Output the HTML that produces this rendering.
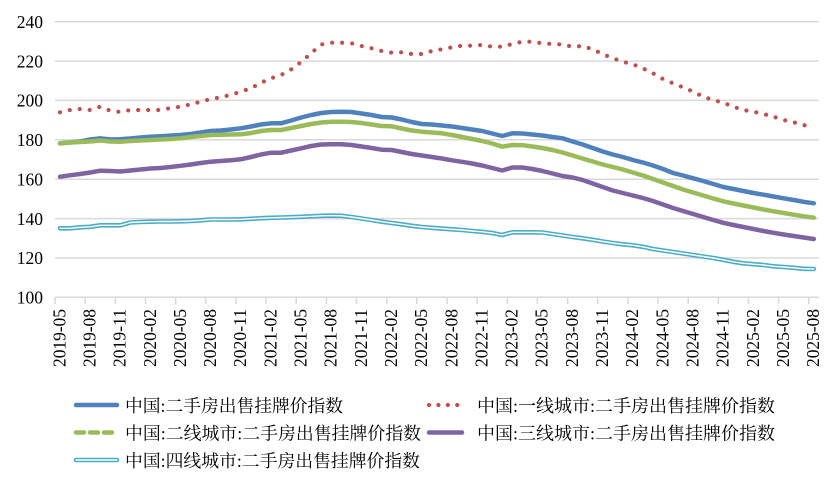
<!DOCTYPE html>
<html><head><meta charset="utf-8"><style>
html,body{margin:0;padding:0;background:#fff;}
svg{display:block;}
.yl{font-family:"Liberation Serif","Noto Serif CJK SC",serif;font-size:17.5px;fill:#000;}
.lg{font-family:"Liberation Serif","Noto Serif CJK SC",serif;font-size:17.5px;fill:#000;}
</style></head><body>
<svg width="835" height="490" viewBox="0 0 835 490" xmlns="http://www.w3.org/2000/svg">
<rect width="835" height="490" fill="#fff"/>
<g stroke="#d9d9d9" stroke-width="1.5">
<line x1="55" y1="21.7" x2="819" y2="21.7"/>
<line x1="55" y1="61.1" x2="819" y2="61.1"/>
<line x1="55" y1="100.4" x2="819" y2="100.4"/>
<line x1="55" y1="139.8" x2="819" y2="139.8"/>
<line x1="55" y1="179.2" x2="819" y2="179.2"/>
<line x1="55" y1="218.6" x2="819" y2="218.6"/>
<line x1="55" y1="257.9" x2="819" y2="257.9"/>
<line x1="55" y1="297.3" x2="819" y2="297.3"/>
</g>
<g stroke="#d9d9d9" stroke-width="1.5">
<line x1="55" y1="297" x2="55" y2="304"/><line x1="85.2" y1="297" x2="85.2" y2="304"/><line x1="115.3" y1="297" x2="115.3" y2="304"/><line x1="145.5" y1="297" x2="145.5" y2="304"/><line x1="175.6" y1="297" x2="175.6" y2="304"/><line x1="205.8" y1="297" x2="205.8" y2="304"/><line x1="235.9" y1="297" x2="235.9" y2="304"/><line x1="266.1" y1="297" x2="266.1" y2="304"/><line x1="296.2" y1="297" x2="296.2" y2="304"/><line x1="326.4" y1="297" x2="326.4" y2="304"/><line x1="356.5" y1="297" x2="356.5" y2="304"/><line x1="386.7" y1="297" x2="386.7" y2="304"/><line x1="416.8" y1="297" x2="416.8" y2="304"/><line x1="447" y1="297" x2="447" y2="304"/><line x1="477.1" y1="297" x2="477.1" y2="304"/><line x1="507.3" y1="297" x2="507.3" y2="304"/><line x1="537.4" y1="297" x2="537.4" y2="304"/><line x1="567.6" y1="297" x2="567.6" y2="304"/><line x1="597.7" y1="297" x2="597.7" y2="304"/><line x1="627.9" y1="297" x2="627.9" y2="304"/><line x1="658" y1="297" x2="658" y2="304"/><line x1="688.2" y1="297" x2="688.2" y2="304"/><line x1="718.3" y1="297" x2="718.3" y2="304"/><line x1="748.5" y1="297" x2="748.5" y2="304"/><line x1="778.6" y1="297" x2="778.6" y2="304"/><line x1="808.8" y1="297" x2="808.8" y2="304"/>
</g>
<g class="yl" text-anchor="end">
<text x="43" y="28">240</text>
<text x="43" y="67.4">220</text>
<text x="43" y="106.7">200</text>
<text x="43" y="146.1">180</text>
<text x="43" y="185.5">160</text>
<text x="43" y="224.9">140</text>
<text x="43" y="264.2">120</text>
<text x="43" y="303.6">100</text>
</g>
<g class="yl" text-anchor="end">
<text transform="translate(65.3,309) rotate(-90)" textLength="58">2019-05</text>
<text transform="translate(95.5,309) rotate(-90)" textLength="58">2019-08</text>
<text transform="translate(125.6,309) rotate(-90)" textLength="58">2019-11</text>
<text transform="translate(155.8,309) rotate(-90)" textLength="58">2020-02</text>
<text transform="translate(185.9,309) rotate(-90)" textLength="58">2020-05</text>
<text transform="translate(216.1,309) rotate(-90)" textLength="58">2020-08</text>
<text transform="translate(246.2,309) rotate(-90)" textLength="58">2020-11</text>
<text transform="translate(276.4,309) rotate(-90)" textLength="58">2021-02</text>
<text transform="translate(306.5,309) rotate(-90)" textLength="58">2021-05</text>
<text transform="translate(336.7,309) rotate(-90)" textLength="58">2021-08</text>
<text transform="translate(366.8,309) rotate(-90)" textLength="58">2021-11</text>
<text transform="translate(397,309) rotate(-90)" textLength="58">2022-02</text>
<text transform="translate(427.1,309) rotate(-90)" textLength="58">2022-05</text>
<text transform="translate(457.3,309) rotate(-90)" textLength="58">2022-08</text>
<text transform="translate(487.4,309) rotate(-90)" textLength="58">2022-11</text>
<text transform="translate(517.6,309) rotate(-90)" textLength="58">2023-02</text>
<text transform="translate(547.7,309) rotate(-90)" textLength="58">2023-05</text>
<text transform="translate(577.9,309) rotate(-90)" textLength="58">2023-08</text>
<text transform="translate(608,309) rotate(-90)" textLength="58">2023-11</text>
<text transform="translate(638.2,309) rotate(-90)" textLength="58">2024-02</text>
<text transform="translate(668.3,309) rotate(-90)" textLength="58">2024-05</text>
<text transform="translate(698.5,309) rotate(-90)" textLength="58">2024-08</text>
<text transform="translate(728.6,309) rotate(-90)" textLength="58">2024-11</text>
<text transform="translate(758.8,309) rotate(-90)" textLength="58">2025-02</text>
<text transform="translate(788.9,309) rotate(-90)" textLength="58">2025-05</text>
<text transform="translate(819.1,309) rotate(-90)" textLength="58">2025-08</text>
</g>
<g fill="none" stroke-linejoin="round" stroke-linecap="round">
<!-- blue -->
<polyline stroke="#4F81BD" stroke-width="4.5" points="60,143.3 70.1,142.5 80.1,141.5 90.2,139.5 100.2,138.3 110.3,139.5 120.3,139.3 130.4,138.5 140.4,137.5 150.5,136.7 160.5,136.2 170.6,135.6 180.6,135 190.7,134 200.7,132.5 210.8,131 220.8,130.5 230.9,129.5 240.9,128.3 251,126.5 261,124.5 271.1,123.3 281.1,123.3 291.2,120.5 301.2,117.5 311.3,115 321.3,113 331.4,112 341.4,111.7 351.5,112 361.5,113.5 371.6,115 381.6,117 391.7,117.5 401.7,119.5 411.8,122 421.8,124 431.9,124.5 441.9,125.5 452,126.5 462,128 472.1,129.5 482.1,131 492.2,133.5 502.2,136 512.3,133.3 522.3,133.5 532.4,134.5 542.4,135.5 552.5,137 562.5,138.3 572.6,141.5 582.6,144.5 592.7,148 602.7,151.5 612.8,154.5 622.8,157 632.9,160 642.9,162.5 653,165.5 663,169 673.1,173 683.1,175.5 693.2,178.3 703.2,181 713.3,184 723.3,187 733.4,189 743.4,191 753.5,193 763.5,194.7 773.6,196.5 783.6,198.3 793.7,200 803.7,201.8 813.8,203.3"/>
<!-- red dotted -->
<polyline stroke="#C0504D" stroke-width="4.2" stroke-dasharray="0.01 10" points="60,112.3 70.1,110 80.1,109 90.2,110 100.2,106.7 110.3,110.7 120.3,112 130.4,110 140.4,110 150.5,110 160.5,110 170.6,108 180.6,106.7 190.7,104.3 200.7,101.7 210.8,99 220.8,97.3 230.9,94.7 240.9,91.7 251,88.3 261,82.7 271.1,78.3 281.1,75 291.2,69.3 301.2,62 311.3,53 321.3,44.5 331.4,42.7 341.4,42.7 351.5,43.3 361.5,46 371.6,48.3 381.6,51 391.7,52.7 401.7,52.3 411.8,54 421.8,54 431.9,51 441.9,49.3 452,47.3 462,45.7 472.1,45.7 482.1,45 492.2,46.7 502.2,46.7 512.3,44 522.3,41.7 532.4,41.7 542.4,43.3 552.5,44 562.5,44.5 572.6,46.7 582.6,46 592.7,49.3 602.7,54 612.8,58.3 622.8,61.7 632.9,64.3 642.9,68.3 653,73.3 663,79 673.1,83.3 683.1,87.3 693.2,91.7 703.2,96.7 713.3,100 723.3,102.7 733.4,106.7 743.4,110 753.5,111.7 763.5,114 773.6,116.7 783.6,120 793.7,122.3 803.7,125 813.8,128.3"/>
<!-- green -->
<polyline stroke="#9BBB59" stroke-width="4.5" points="60,143.5 70.1,142.5 80.1,142 90.2,141.5 100.2,140.5 110.3,141.5 120.3,141.7 130.4,141 140.4,140.5 150.5,140 160.5,139.5 170.6,139 180.6,138.3 190.7,137 200.7,136 210.8,135 220.8,134.7 230.9,134.5 240.9,134.3 251,133 261,131 271.1,130 281.1,130 291.2,128 301.2,126 311.3,124 321.3,122.5 331.4,121.8 341.4,121.7 351.5,122 361.5,123 371.6,124.5 381.6,126 391.7,126.3 401.7,128.5 411.8,130.5 421.8,131.7 431.9,132.5 441.9,133.3 452,135 462,137 472.1,139 482.1,141 492.2,143.5 502.2,146.7 512.3,145 522.3,145.2 532.4,146.5 542.4,148 552.5,150 562.5,152.5 572.6,155.5 582.6,158.5 592.7,161.5 602.7,164.5 612.8,167 622.8,169.5 632.9,172.5 642.9,175.5 653,179 663,182.5 673.1,186 683.1,189.5 693.2,192.5 703.2,195.5 713.3,198.5 723.3,201.3 733.4,203.5 743.4,205.5 753.5,207.5 763.5,209.5 773.6,211.3 783.6,213 793.7,214.7 803.7,216.3 813.8,217.7"/>
<!-- purple -->
<polyline stroke="#8064A2" stroke-width="4.5" points="60,176.7 70.1,175.3 80.1,174 90.2,172.5 100.2,170.7 110.3,171 120.3,171.5 130.4,170.5 140.4,169.5 150.5,168.5 160.5,168 170.6,167 180.6,165.8 190.7,164.5 200.7,163 210.8,161.7 220.8,161 230.9,160.3 240.9,159.3 251,157 261,154.5 271.1,152.7 281.1,152.7 291.2,150.5 301.2,148.3 311.3,146 321.3,144.5 331.4,144.2 341.4,144.3 351.5,145 361.5,146.5 371.6,148 381.6,149.7 391.7,150 401.7,152 411.8,154 421.8,155.5 431.9,157 441.9,158.5 452,160.3 462,161.8 472.1,163.5 482.1,165.5 492.2,168 502.2,170.5 512.3,167.5 522.3,167.5 532.4,169 542.4,171 552.5,173.5 562.5,176 572.6,177.5 582.6,180 592.7,183.5 602.7,187 612.8,190.5 622.8,193 632.9,195.5 642.9,198 653,201 663,204.5 673.1,208 683.1,211 693.2,214 703.2,217 713.3,220 723.3,222.8 733.4,225 743.4,227 753.5,229 763.5,231 773.6,232.8 783.6,234.5 793.7,236 803.7,237.5 813.8,239"/>
<!-- cyan compound -->
<polyline stroke="#4BACC6" stroke-width="4.6" points="60,228.3 70.1,228.3 80.1,227.3 90.2,226.8 100.2,225.3 110.3,225.3 120.3,225.3 130.4,222.5 140.4,222 150.5,221.7 160.5,221.5 170.6,221.5 180.6,221.3 190.7,221 200.7,220.3 210.8,219.5 220.8,219.5 230.9,219.5 240.9,219.3 251,218.8 261,218.2 271.1,217.8 281.1,217.5 291.2,217.2 301.2,216.8 311.3,216.3 321.3,215.8 331.4,215.6 341.4,215.8 351.5,217 361.5,218.5 371.6,220 381.6,221.7 391.7,223 401.7,224.3 411.8,225.8 421.8,227 431.9,227.8 441.9,228.6 452,229.3 462,230 472.1,231 482.1,231.8 492.2,233 502.2,235 512.3,232.3 522.3,232.3 532.4,232.3 542.4,232.5 552.5,234 562.5,235.5 572.6,237 582.6,238.3 592.7,239.8 602.7,241.5 612.8,243 622.8,244.3 632.9,245.3 642.9,246.8 653,249 663,250.5 673.1,252 683.1,253.5 693.2,255 703.2,256.5 713.3,258 723.3,259.8 733.4,261.8 743.4,263.3 753.5,264.2 763.5,265 773.6,266.3 783.6,267 793.7,267.8 803.7,268.8 813.8,269"/>
<polyline stroke="#ffffff" stroke-width="1.4" points="60,228.3 70.1,228.3 80.1,227.3 90.2,226.8 100.2,225.3 110.3,225.3 120.3,225.3 130.4,222.5 140.4,222 150.5,221.7 160.5,221.5 170.6,221.5 180.6,221.3 190.7,221 200.7,220.3 210.8,219.5 220.8,219.5 230.9,219.5 240.9,219.3 251,218.8 261,218.2 271.1,217.8 281.1,217.5 291.2,217.2 301.2,216.8 311.3,216.3 321.3,215.8 331.4,215.6 341.4,215.8 351.5,217 361.5,218.5 371.6,220 381.6,221.7 391.7,223 401.7,224.3 411.8,225.8 421.8,227 431.9,227.8 441.9,228.6 452,229.3 462,230 472.1,231 482.1,231.8 492.2,233 502.2,235 512.3,232.3 522.3,232.3 532.4,232.3 542.4,232.5 552.5,234 562.5,235.5 572.6,237 582.6,238.3 592.7,239.8 602.7,241.5 612.8,243 622.8,244.3 632.9,245.3 642.9,246.8 653,249 663,250.5 673.1,252 683.1,253.5 693.2,255 703.2,256.5 713.3,258 723.3,259.8 733.4,261.8 743.4,263.3 753.5,264.2 763.5,265 773.6,266.3 783.6,267 793.7,267.8 803.7,268.8 813.8,269"/>
</g>
<!-- legend -->
<g stroke-linecap="round">
<line x1="76" y1="405" x2="117" y2="405" stroke="#4F81BD" stroke-width="4.5"/>
<line x1="429" y1="405" x2="466" y2="405" stroke="#C0504D" stroke-width="4.2" stroke-dasharray="0.01 9.4"/>
<line x1="76" y1="432.5" x2="117" y2="432.5" stroke="#9BBB59" stroke-width="4.5" stroke-dasharray="8 6"/>
<line x1="429" y1="432.5" x2="462" y2="432.5" stroke="#8064A2" stroke-width="4.5"/>
<line x1="76" y1="460" x2="117" y2="460" stroke="#4BACC6" stroke-width="4.6"/>
<line x1="76" y1="460" x2="117" y2="460" stroke="#ffffff" stroke-width="1.4"/>
</g>
<g class="lg">
<text x="125" y="412" textLength="218" lengthAdjust="spacingAndGlyphs">中国:二手房出售挂牌价指数</text>
<text x="477" y="412" textLength="298" lengthAdjust="spacingAndGlyphs">中国:一线城市:二手房出售挂牌价指数</text>
<text x="125" y="439.5" textLength="296" lengthAdjust="spacingAndGlyphs">中国:二线城市:二手房出售挂牌价指数</text>
<text x="477" y="439.5" textLength="298" lengthAdjust="spacingAndGlyphs">中国:三线城市:二手房出售挂牌价指数</text>
<text x="125" y="467" textLength="295" lengthAdjust="spacingAndGlyphs">中国:四线城市:二手房出售挂牌价指数</text>
</g>
</svg>
</body></html>
